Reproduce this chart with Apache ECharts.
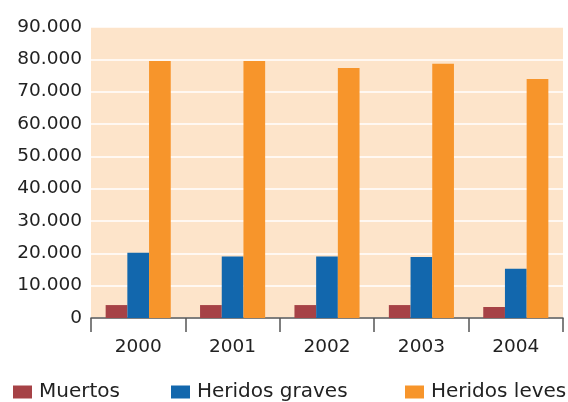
<!DOCTYPE html>
<html>
<head>
<meta charset="utf-8">
<script src="https://cdn.jsdelivr.net/npm/echarts@6/dist/echarts.min.js"></script>
<style>
  html, body { margin: 0; padding: 0; background: #ffffff; }
  #chart { width: 568px; height: 402px; }
</style>
</head>
<body>
<div id="chart"></div>
<script>
// Años y víctimas de accidentes de tráfico
const years = ['2000', '2001', '2002', '2003', '2004'];
const muertos = [4000, 4000, 4000, 4000, 3400];
const heridosGraves = [20200, 19000, 19000, 18900, 15200];
const heridosLeves = [79500, 79500, 77300, 78600, 73900];
const seriesNames = ['Muertos', 'Heridos graves', 'Heridos leves'];
const colors = ['#A64246', '#1267AD', '#F7952B'];

const FONT = '"DejaVu Sans", sans-serif';

function miles(v) {
  return String(v).replace(/\B(?=(\d{3})+(?!\d))/g, '.');
}

function legendFor(name, left) {
  return {
    data: [name],
    left: left,
    top: 382,
    itemWidth: 19,
    itemHeight: 13,
    itemGap: 0,
    icon: 'rect',
    padding: 0,
    textStyle: { fontFamily: FONT, fontSize: 20, color: '#222', padding: [0, 0, 0, 2] },
    selectedMode: false
  };
}

const chart = echarts.init(document.getElementById('chart'), null, { renderer: 'canvas' });
chart.setOption({
  animation: false,
  color: colors,
  grid: {
    left: 91, right: 5, top: 27, bottom: 84,
    show: true, backgroundColor: '#FDE4CA', borderWidth: 0
  },
  legend: [
    legendFor(seriesNames[0], 13),
    legendFor(seriesNames[1], 171),
    legendFor(seriesNames[2], 405)
  ],
  xAxis: {
    type: 'category',
    data: years,
    axisLine: { show: true, lineStyle: { color: '#555', width: 1.5 } },
    axisTick: { show: true, alignWithLabel: false, interval: 0, length: 14, lineStyle: { color: '#555', width: 1.5 } },
    axisLabel: { fontFamily: FONT, fontSize: 18.5, color: '#222', margin: 20 }
  },
  yAxis: {
    type: 'value',
    min: 0, max: 90000, interval: 10000,
    axisLine: { show: false },
    axisTick: { show: false },
    splitLine: { lineStyle: { color: '#ffffff', width: 1.5 } },
    axisLabel: { fontFamily: FONT, fontSize: 18.5, color: '#222', margin: 9, formatter: miles }
  },
  series: [
    { name: seriesNames[0], type: 'bar', data: muertos, barWidth: 21.7, barGap: '0%' },
    { name: seriesNames[1], type: 'bar', data: heridosGraves, barWidth: 21.7, barGap: '0%' },
    { name: seriesNames[2], type: 'bar', data: heridosLeves, barWidth: 21.7, barGap: '0%' }
  ]
});
</script>
</body>
</html>
